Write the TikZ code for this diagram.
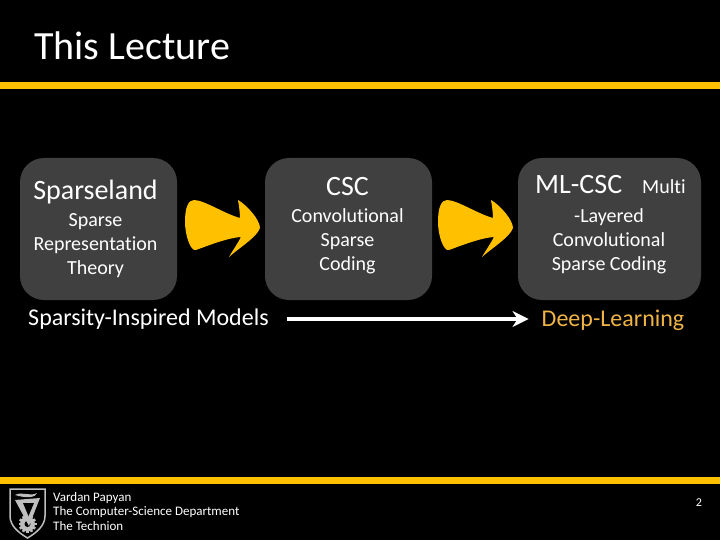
\documentclass[tikz,border=0pt]{standalone}
\usepackage{fontspec}
\setmainfont[Ligatures=NoCommon]{Carlito}
\usetikzlibrary{positioning, arrows, arrows.meta, calc}
\definecolor{barcol}{RGB}{255,192,0}
\definecolor{boxcol}{RGB}{64,64,64}
\definecolor{deepcol}{RGB}{240,180,70}
\definecolor{logocol}{RGB}{190,190,190}
\begin{document}
\begin{tikzpicture}[
    x=1pt, y=-1pt,
    box/.style={rectangle, fill=boxcol, rounded corners=24pt, minimum height=142pt, inner sep=0pt},
    bar/.style={fill=barcol, draw=none},
    head/.style={font=\fontsize{28}{28}\selectfont, text=white, inner sep=0pt},
    body/.style={font=\fontsize{20}{24}\selectfont, text=white, align=center, inner sep=0pt},
    wide/.style={font=\fontsize{24}{24}\selectfont, inner sep=0pt},
    small/.style={font=\fontsize{13}{14.5}\selectfont, text=white, align=left, inner sep=0pt},
    arr/.style={-{Stealth[length=16pt,width=16pt,inset=5pt]}, line width=4pt, white},
    fatarr/.pic={
        \fill[barcol] (0,-6) .. controls (0,-20) and (3,-28) .. (9,-28)
            .. controls (19,-28) and (40,-14) .. (55,-10)
            .. controls (55,-15) and (54,-22) .. (53,-28)
            .. controls (62,-23) and (75,-8) .. (75,0)
            .. controls (72,9) and (54,20) .. (44,29)
            .. controls (48,22) and (53,15) .. (56,9)
            .. controls (42,10) and (22,18) .. (11,22)
            .. controls (6,24) and (0,8) .. (0,-6) -- cycle;
    }
]
\fill[black] (0,0) rectangle (720,540);

% bars
\fill[bar] (0,82) rectangle (720,89);
\fill[bar] (0,477) rectangle (720,484);

\node[font=\fontsize{40}{40}\selectfont, text=white, anchor=base west, inner sep=0pt] (title) at (34,60) {This Lecture};

% boxes
\node[box, minimum width=157pt] (sparse) at (98.5,229) {};
\node[box, minimum width=167pt] (csc) at (348.5,229) {};
\node[box, minimum width=183pt] (mlcsc) at (609.5,229) {};

\node[head] (sparsehead) at (95.5,192) {Sparseland};
\node[body] (sparsebody) at (95.5,246) {Sparse\\Representation\\Theory};
\node[head] (cschead) at (347.5,187) {CSC};
\node[body] (cscbody) at (347.5,241) {Convolutional\\Sparse\\Coding};
\node[head, anchor=base west] (mlhead) at (535,194) {ML-CSC};
\node[body, anchor=base west] (mlmulti) at (642,194) {Multi};
\node[body] (mlbody) at (609,241) {-Layered\\Convolutional\\Sparse Coding};

% fat arrows
\pic at (185,228) {fatarr};
\pic at (438,228) {fatarr};

\node[wide, text=white] (models) at (148.5,319) {Sparsity-Inspired Models};
\node[wide, text=deepcol] (deep) at (613,320) {Deep-Learning};
\draw[arr, shorten <=18pt, shorten >=13pt] ([yshift=1pt]deep.west -| models.east) -- ([yshift=1pt]deep.west);

% footer
\node[small, anchor=north west] (author) at (53,492) {Vardan Papyan\\The Computer-Science Department\\The Technion};
\node[font=\fontsize{12}{12}\selectfont, text=white, inner sep=0pt] (pagenum) at (699,503) {2};

% logo
\draw[logocol, line width=1.5pt] (10,489) -- (45,489) -- (45,516) .. controls (45,526) and (36,533) .. (27.5,538)
    .. controls (19,533) and (10,526) .. (10,516) -- cycle;
\foreach \a in {0,30,...,330}
    \draw[logocol, line width=2.5pt] (27.5,524) -- ++(\a:9);
\fill[logocol] (27.5,524) circle (7.5pt);
\fill[black] (27.5,524) circle (3pt);
\fill[logocol] (15,495) .. controls (22,491) and (30,497) .. (37,493) .. controls (36,497) and (28,499) .. (15,495) -- cycle;
\fill[logocol] (15,500) -- (40,498) -- (29,526) -- cycle;
\fill[black] (23,503) -- (34,503) -- (28.5,516) -- cycle;
\end{tikzpicture}
\end{document}
